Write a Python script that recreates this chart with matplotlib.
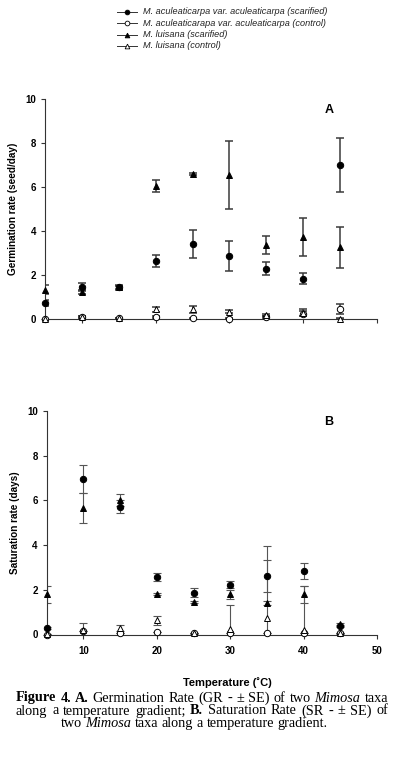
import matplotlib
matplotlib.use('Agg')
import matplotlib.pyplot as plt
from matplotlib.lines import Line2D

plt.rcParams['font.family'] = 'Liberation Sans'

# temperatures (deg C)
temps = [5, 10, 15, 20, 25, 30, 35, 40, 45]

# A. germination rate (seed/day) with SE
gr_acu_scar = [0.75, 1.45, 1.45, 2.65, 3.42, 2.87, 2.30, 1.85, 7.00]
gr_acu_scar_se = [0.15, 0.18, 0.12, 0.27, 0.63, 0.67, 0.30, 0.25, 1.22]
gr_acu_ctrl = [0.02, 0.10, 0.05, 0.10, 0.05, 0.03, 0.10, 0.25, 0.47]
gr_acu_ctrl_se = [0.0, 0.05, 0.03, 0.03, 0.03, 0.02, 0.05, 0.12, 0.22]
gr_lui_scar = [1.35, 1.25, 1.45, 6.05, 6.60, 6.57, 3.38, 3.75, 3.27]
gr_lui_scar_se = [0.22, 0.10, 0.05, 0.28, 0.05, 1.55, 0.40, 0.85, 0.93]
gr_lui_ctrl = [0.02, 0.10, 0.05, 0.45, 0.45, 0.35, 0.20, 0.30, 0.02]
gr_lui_ctrl_se = [0.0, 0.05, 0.02, 0.12, 0.15, 0.07, 0.05, 0.15, 0.02]

# B. saturation rate (days) with SE
sr_acu_scar = [0.28, 6.97, 5.72, 2.57, 1.87, 2.23, 2.62, 2.84, 0.38]
sr_acu_scar_se = [0.05, 0.63, 0.30, 0.17, 0.20, 0.17, 0.72, 0.37, 0.05]
sr_acu_ctrl = [0.0, 0.15, 0.05, 0.13, 0.05, 0.05, 0.06, 0.05, 0.05]
sr_acu_ctrl_se = [0.0, 0.0, 0.0, 0.0, 0.0, 0.0, 0.0, 0.0, 0.0]
sr_lui_scar = [1.80, 5.66, 6.00, 1.82, 1.45, 1.79, 1.40, 1.79, 0.45]
sr_lui_scar_se = [0.38, 0.65, 0.27, 0.05, 0.05, 0.22, 0.10, 0.40, 0.05]
sr_lui_ctrl = [0.02, 0.20, 0.30, 0.63, 0.05, 0.24, 0.75, 0.22, 0.05]
sr_lui_ctrl_se = [0.0, 0.32, 0.13, 0.22, 0.03, 1.10, 3.20, 1.95, 0.03]

labels = ['M. aculeaticarpa var. aculeaticarpa (scarified)',
          'M. aculeaticarapa var. aculeaticarpa (control)',
          'M. luisana (scarified)',
          'M. luisana (control)']

# caption words: (text, weight, style)
caption = [
    [('Figure', 'bold', 'normal'), ('4.', 'bold', 'normal'), ('A.', 'bold', 'normal'),
     ('Germination', 'normal', 'normal'), ('Rate', 'normal', 'normal'),
     ('(GR', 'normal', 'normal'), ('-', 'normal', 'normal'), ('\u00b1', 'normal', 'normal'),
     ('SE)', 'normal', 'normal'), ('of', 'normal', 'normal'), ('two', 'normal', 'normal'),
     ('Mimosa', 'normal', 'italic'), ('taxa', 'normal', 'normal')],
    [('along', 'normal', 'normal'), ('a', 'normal', 'normal'),
     ('temperature', 'normal', 'normal'), ('gradient;', 'normal', 'normal'),
     ('B.', 'bold', 'normal'), ('Saturation', 'normal', 'normal'), ('Rate', 'normal', 'normal'),
     ('(SR', 'normal', 'normal'), ('-', 'normal', 'normal'), ('\u00b1', 'normal', 'normal'),
     ('SE)', 'normal', 'normal'), ('of', 'normal', 'normal')],
    [('two', 'normal', 'normal'), ('Mimosa', 'normal', 'italic'), ('taxa', 'normal', 'normal'),
     ('along', 'normal', 'normal'), ('a', 'normal', 'normal'),
     ('temperature', 'normal', 'normal'), ('gradient.', 'normal', 'normal')],
]

W, H = 393, 759
fig = plt.figure(figsize=(W / 100, H / 100), dpi=100)


def px_box(x0, y0, x1, y1):
    return [x0 / W, 1 - y1 / H, (x1 - x0) / W, (y1 - y0) / H]


styles = [dict(marker='o', mfc='black', zorder=5),
          dict(marker='o', mfc='white', zorder=3),
          dict(marker='^', mfc='black', zorder=4),
          dict(marker='^', mfc='white', zorder=3)]


def panel(ax, series, ecolor, elw, letter):
    for (vals, errs), st in zip(series, styles):
        ax.errorbar(temps, vals, yerr=errs, fmt='none', ecolor=ecolor,
                    elinewidth=elw, capsize=2.8, capthick=elw, zorder=2)
        ax.plot(temps, vals, ls='none', marker=st['marker'], ms=4.6,
                mfc=st['mfc'], mec='black', mew=0.7, clip_on=False,
                zorder=st['zorder'])
    ax.set_xlim(5, 50)
    ax.set_ylim(0, 10)
    ax.set_yticks([0, 2, 4, 6, 8, 10])
    ax.set_xticks([10, 20, 30, 40, 50])
    for s in ['top', 'right']:
        ax.spines[s].set_visible(False)
    for s in ['left', 'bottom']:
        ax.spines[s].set_linewidth(0.8)
        ax.spines[s].set_color('#333333')
    ax.tick_params(direction='out', length=3, width=0.8, color='#333333',
                   labelsize=7)
    for t in ax.get_yticklabels() + ax.get_xticklabels():
        t.set_fontweight('bold')
    ax.text(0.855, 0.95, letter, transform=ax.transAxes, fontsize=9,
            fontweight='bold', ha='center', va='center')


axA = fig.add_axes(px_box(45, 99.3, 377, 319.3))
panel(axA, [(gr_acu_scar, gr_acu_scar_se), (gr_acu_ctrl, gr_acu_ctrl_se),
            (gr_lui_scar, gr_lui_scar_se), (gr_lui_ctrl, gr_lui_ctrl_se)],
      '#3a3a3a', 1.1, 'A')
axA.tick_params(axis='x', labelbottom=False)
axA.set_ylabel('Germination rate (seed/day)', fontsize=7.2, fontweight='bold',
               labelpad=5)

axB = fig.add_axes(px_box(46.7, 411, 377, 634.5))
panel(axB, [(sr_acu_scar, sr_acu_scar_se), (sr_acu_ctrl, sr_acu_ctrl_se),
            (sr_lui_scar, sr_lui_scar_se), (sr_lui_ctrl, sr_lui_ctrl_se)],
      '#555555', 0.8, 'B')
axB.tick_params(axis='x', pad=5)
axB.set_ylabel('Saturation rate (days)', fontsize=7.2, fontweight='bold',
               labelpad=5)

fig.text(227 / W, 1 - 683 / H, 'Temperature (\u02daC)', fontsize=8,
         fontweight='bold', ha='center', va='center')

# legend drawn by hand
leg_y = [12, 23, 34.5, 46]
for y, lab, st in zip(leg_y, labels, styles):
    fy = 1 - y / H
    fig.add_artist(Line2D([117 / W, 137 / W], [fy, fy], color='#333333', lw=0.7))
    fig.add_artist(Line2D([127 / W], [fy], ls='none', marker=st['marker'],
                          ms=3.4, mfc=st['mfc'], mec='black', mew=0.6))
    fig.text(143 / W, fy, lab, fontsize=6.6, fontstyle='italic',
             ha='left', va='center', color='#222222')

# caption, laid out word by word (lines 1-2 justified, line 3 centred)
renderer = fig.canvas.get_renderer()
cap_size = 10.3
left, right = 16, 388
for y, (words, justify) in zip([698, 711, 723.5],
                              zip(caption, [True, True, False])):
    texts = [fig.text(0, 1 - y / H, w, fontsize=cap_size, family='Liberation Serif',
                      fontweight=fw, fontstyle=fs, ha='left', va='center')
             for w, fw, fs in words]
    widths = [t.get_window_extent(renderer).width for t in texts]
    if justify:
        gap = (right - left - sum(widths)) / (len(words) - 1)
        x = left
    else:
        gap = cap_size * 100 / 72 * 0.25
        x = (left + right - sum(widths) - gap * (len(words) - 1)) / 2 - 8
    for t, w in zip(texts, widths):
        t.set_x(x / W)
        x += w + gap

fig.savefig('out.png', dpi=100)
